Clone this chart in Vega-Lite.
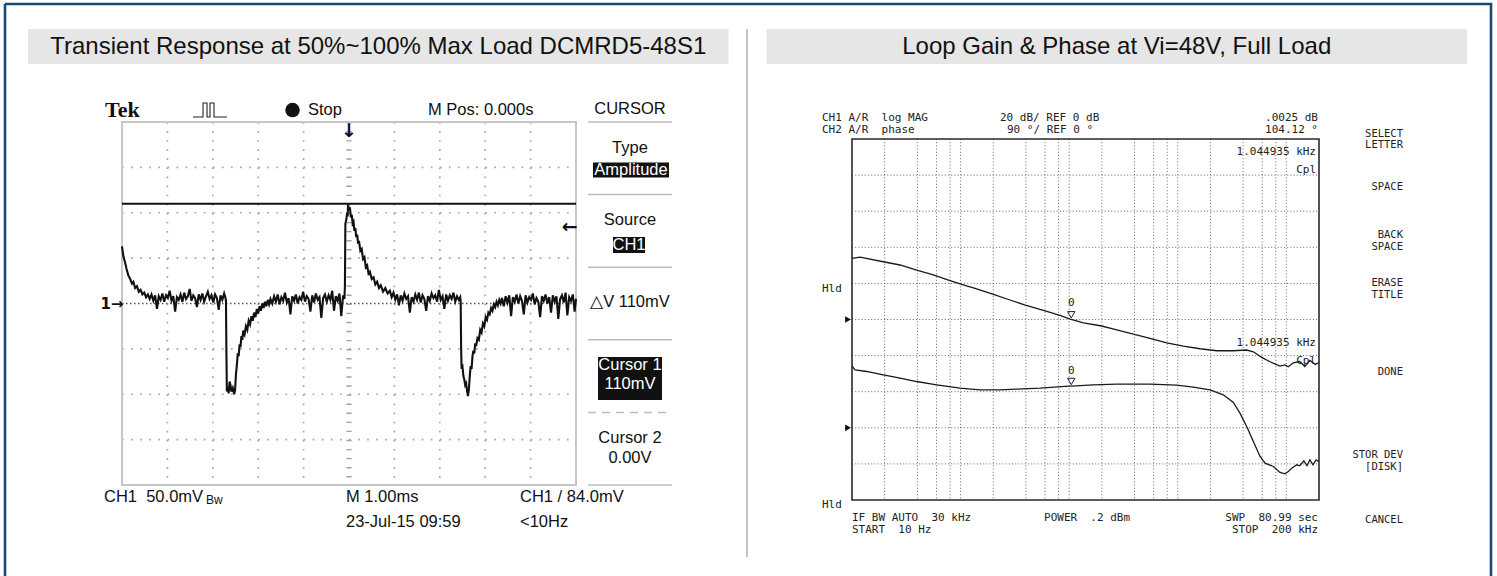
{
"$schema": "https://vega.github.io/schema/vega-lite/v6.json",
"width": 1486, "height": 572,
"autosize": {"type": "none"},
"padding": {"left": 5, "top": 4, "right": 6, "bottom": 0},
"background": "white",
"config": {"view": {"stroke": "#17497b", "strokeWidth": 2.6, "strokeDash": [2058, 1486, 572, 0]}},
"datasets": {
"scope": [
{"t":-5.00,"v":63},{"t":-4.97,"v":52},{"t":-4.93,"v":45},{"t":-4.90,"v":38},{"t":-4.86,"v":31},{"t":-4.82,"v":27},{"t":-4.78,"v":22},{"t":-4.75,"v":24},{"t":-4.71,"v":17},{"t":-4.67,"v":19},{"t":-4.63,"v":13},{"t":-4.59,"v":15},{"t":-4.55,"v":10},{"t":-4.51,"v":12},{"t":-4.47,"v":7},{"t":-4.43,"v":10},
{"t":-4.39,"v":5},{"t":-4.35,"v":10},{"t":-4.31,"v":3},{"t":-4.27,"v":9},{"t":-4.23,"v":-6},{"t":-4.19,"v":8},{"t":-4.15,"v":4},{"t":-4.11,"v":11},{"t":-4.07,"v":2},{"t":-4.03,"v":9},{"t":-3.99,"v":6},{"t":-3.95,"v":14},{"t":-3.91,"v":3},{"t":-3.87,"v":8},{"t":-3.83,"v":-9},{"t":-3.79,"v":7},{"t":-3.75,"v":4},{"t":-3.71,"v":10},{"t":-3.67,"v":2},{"t":-3.63,"v":12},{"t":-3.59,"v":5},{"t":-3.55,"v":8},{"t":-3.51,"v":16},{"t":-3.47,"v":3},{"t":-3.43,"v":9},{"t":-3.39,"v":6},{"t":-3.35,"v":-4},{"t":-3.31,"v":10},{"t":-3.27,"v":4},{"t":-3.23,"v":11},{"t":-3.19,"v":2},{"t":-3.15,"v":8},{"t":-3.11,"v":13},{"t":-3.07,"v":5},{"t":-3.03,"v":9},{"t":-2.99,"v":1},{"t":-2.95,"v":10},{"t":-2.91,"v":6},{"t":-2.87,"v":-7},{"t":-2.83,"v":9},{"t":-2.79,"v":4},{"t":-2.75,"v":11},{"t":-2.72,"v":6},
{"t":-2.71,"v":3},{"t":-2.70,"v":-55},{"t":-2.69,"v":-97},{"t":-2.67,"v":-92},{"t":-2.65,"v":-99},{"t":-2.63,"v":-86},{"t":-2.61,"v":-90},{"t":-2.59,"v":-97},{"t":-2.56,"v":-93},{"t":-2.53,"v":-100},{"t":-2.51,"v":-96},{"t":-2.49,"v":-78},{"t":-2.47,"v":-68},{"t":-2.45,"v":-55},{"t":-2.43,"v":-58},{"t":-2.41,"v":-45},{"t":-2.39,"v":-48},{"t":-2.37,"v":-36},{"t":-2.35,"v":-40},{"t":-2.33,"v":-30},{"t":-2.30,"v":-34},{"t":-2.27,"v":-25},{"t":-2.24,"v":-29},{"t":-2.21,"v":-19},{"t":-2.18,"v":-23},{"t":-2.15,"v":-14},{"t":-2.12,"v":-19},{"t":-2.09,"v":-10},{"t":-2.06,"v":-15},{"t":-2.03,"v":-6},{"t":-2.00,"v":-11},{"t":-1.97,"v":-3},{"t":-1.94,"v":-8},{"t":-1.91,"v":0},{"t":-1.88,"v":-5},{"t":-1.85,"v":2},{"t":-1.82,"v":-3},{"t":-1.79,"v":4},{"t":-1.76,"v":-1},{"t":-1.73,"v":5},
{"t":-1.69,"v":0},{"t":-1.65,"v":8},{"t":-1.61,"v":2},{"t":-1.57,"v":10},{"t":-1.53,"v":-1},{"t":-1.49,"v":7},{"t":-1.45,"v":3},{"t":-1.41,"v":12},{"t":-1.37,"v":1},{"t":-1.33,"v":6},{"t":-1.29,"v":-12},{"t":-1.25,"v":8},{"t":-1.21,"v":3},{"t":-1.17,"v":10},{"t":-1.13,"v":0},{"t":-1.09,"v":7},{"t":-1.05,"v":4},{"t":-1.01,"v":13},{"t":-0.97,"v":2},{"t":-0.93,"v":8},{"t":-0.89,"v":5},{"t":-0.85,"v":-9},{"t":-0.81,"v":9},{"t":-0.77,"v":1},{"t":-0.73,"v":11},{"t":-0.69,"v":4},{"t":-0.65,"v":7},{"t":-0.61,"v":-16},{"t":-0.57,"v":6},{"t":-0.53,"v":10},{"t":-0.49,"v":2},{"t":-0.45,"v":9},{"t":-0.41,"v":4},{"t":-0.37,"v":14},{"t":-0.33,"v":-8},{"t":-0.29,"v":8},{"t":-0.25,"v":3},{"t":-0.21,"v":11},{"t":-0.17,"v":-14},{"t":-0.13,"v":9},{"t":-0.10,"v":5},
{"t":-0.09,"v":20},{"t":-0.08,"v":88},{"t":-0.06,"v":92},{"t":-0.04,"v":100},{"t":-0.03,"v":96},{"t":-0.02,"v":109},{"t":0.00,"v":103},{"t":0.02,"v":106},{"t":0.04,"v":95},{"t":0.06,"v":98},{"t":0.08,"v":88},{"t":0.10,"v":90},{"t":0.12,"v":80},{"t":0.14,"v":83},{"t":0.16,"v":73},{"t":0.18,"v":76},{"t":0.20,"v":66},{"t":0.22,"v":69},{"t":0.25,"v":58},{"t":0.28,"v":60},{"t":0.31,"v":49},{"t":0.34,"v":51},{"t":0.37,"v":40},{"t":0.40,"v":42},{"t":0.43,"v":33},{"t":0.46,"v":35},{"t":0.50,"v":27},{"t":0.54,"v":29},{"t":0.58,"v":21},{"t":0.62,"v":24},{"t":0.66,"v":17},{"t":0.70,"v":20},{"t":0.75,"v":13},{"t":0.80,"v":17},{"t":0.85,"v":11},{"t":0.90,"v":14},
{"t":0.94,"v":7},{"t":0.98,"v":12},{"t":1.02,"v":4},{"t":1.06,"v":10},{"t":1.10,"v":-2},{"t":1.14,"v":9},{"t":1.18,"v":3},{"t":1.22,"v":11},{"t":1.26,"v":5},{"t":1.30,"v":8},{"t":1.34,"v":-10},{"t":1.38,"v":7},{"t":1.42,"v":2},{"t":1.46,"v":10},{"t":1.50,"v":4},{"t":1.54,"v":12},{"t":1.58,"v":1},{"t":1.62,"v":9},{"t":1.66,"v":5},{"t":1.70,"v":-8},{"t":1.74,"v":8},{"t":1.78,"v":3},{"t":1.82,"v":11},{"t":1.86,"v":6},{"t":1.90,"v":9},{"t":1.94,"v":2},{"t":1.98,"v":15},{"t":2.02,"v":4},{"t":2.06,"v":8},{"t":2.10,"v":-6},{"t":2.14,"v":10},{"t":2.18,"v":3},{"t":2.22,"v":9},{"t":2.26,"v":5},{"t":2.30,"v":12},{"t":2.34,"v":2},{"t":2.38,"v":8},{"t":2.42,"v":4},{"t":2.45,"v":7},
{"t":2.46,"v":2},{"t":2.47,"v":-50},{"t":2.48,"v":-72},{"t":2.50,"v":-70},{"t":2.52,"v":-80},{"t":2.54,"v":-84},{"t":2.56,"v":-90},{"t":2.58,"v":-88},{"t":2.60,"v":-96},{"t":2.62,"v":-102},{"t":2.64,"v":-95},{"t":2.66,"v":-80},{"t":2.68,"v":-69},{"t":2.70,"v":-72},{"t":2.72,"v":-58},{"t":2.74,"v":-52},{"t":2.76,"v":-55},{"t":2.78,"v":-44},{"t":2.80,"v":-47},{"t":2.83,"v":-38},{"t":2.86,"v":-40},{"t":2.89,"v":-29},{"t":2.92,"v":-32},{"t":2.95,"v":-22},{"t":2.98,"v":-25},{"t":3.01,"v":-15},{"t":3.04,"v":-18},{"t":3.07,"v":-10},{"t":3.10,"v":-12},{"t":3.13,"v":-5},{"t":3.16,"v":-8},{"t":3.19,"v":-1},{"t":3.22,"v":-4},{"t":3.25,"v":2},{"t":3.28,"v":-2},{"t":3.31,"v":4},{"t":3.34,"v":0},
{"t":3.37,"v":6},{"t":3.41,"v":-3},{"t":3.45,"v":8},{"t":3.49,"v":1},{"t":3.53,"v":9},{"t":3.57,"v":-14},{"t":3.61,"v":7},{"t":3.65,"v":2},{"t":3.69,"v":10},{"t":3.73,"v":0},{"t":3.77,"v":8},{"t":3.81,"v":3},{"t":3.85,"v":-12},{"t":3.89,"v":9},{"t":3.93,"v":1},{"t":3.97,"v":7},{"t":4.01,"v":4},{"t":4.05,"v":11},{"t":4.09,"v":-1},{"t":4.13,"v":6},{"t":4.17,"v":2},{"t":4.21,"v":-15},{"t":4.25,"v":8},{"t":4.29,"v":3},{"t":4.33,"v":10},{"t":4.37,"v":0},{"t":4.41,"v":7},{"t":4.45,"v":-10},{"t":4.49,"v":9},{"t":4.53,"v":2},{"t":4.57,"v":8},{"t":4.61,"v":-17},{"t":4.65,"v":5},{"t":4.69,"v":9},{"t":4.73,"v":1},{"t":4.77,"v":12},{"t":4.81,"v":-13},{"t":4.85,"v":7},{"t":4.89,"v":3},{"t":4.93,"v":10},{"t":4.97,"v":-9},{"t":5.00,"v":5}
],
"mag": [
{"f":10,"db":33.9},{"f":11.85,"db":34.5},{"f":19.4,"db":32.0},{"f":27.7,"db":30.2},{"f":39.4,"db":27.4},{"f":56.1,"db":24.7},{"f":79.9,"db":21.5},{"f":98.8,"db":19.7},{"f":140.6,"db":16.9},{"f":197.6,"db":14.0},{"f":285,"db":10.8},{"f":394.5,"db":8.0},{"f":590,"db":4.9},{"f":824,"db":2.3},{"f":990,"db":0.5},{"f":1045,"db":0.0},{"f":1352,"db":-1.9},{"f":1995,"db":-3.6},{"f":2742,"db":-5.8},{"f":3984,"db":-8.2},{"f":5556,"db":-10.4},{"f":7910,"db":-12.9},{"f":11250,"db":-14.7},{"f":16030,"db":-16.2},{"f":22850,"db":-17.3},{"f":32520,"db":-17.3},{"f":43150,"db":-16.9},{"f":49700,"db":-17.9},{"f":59300,"db":-21.0},{"f":70800,"db":-23.4},{"f":87500,"db":-25.8},{"f":97200,"db":-25.2},{"f":104300,"db":-26.2},{"f":116000,"db":-24.0},{"f":133000,"db":-23.3},{"f":148000,"db":-26.0},{"f":165000,"db":-22.7},{"f":185000,"db":-24.9},{"f":200000,"db":-23.8}
],
"phase": [
{"f":10,"deg":154.6},{"f":10.66,"deg":144.6},{"f":13.65,"deg":140.4},{"f":19.4,"deg":132.1},{"f":27.7,"deg":123.9},{"f":39.4,"deg":115.4},{"f":60.2,"deg":107.2},{"f":98.8,"deg":98.9},{"f":151,"deg":94.7},{"f":230.7,"deg":94.7},{"f":328.5,"deg":96.4},{"f":538,"deg":98.9},{"f":990,"deg":103.8},{"f":1045,"deg":104.1},{"f":1668,"deg":107.2},{"f":2742,"deg":108.9},{"f":5556,"deg":108.9},{"f":9780,"deg":106.4},{"f":13900,"deg":101.4},{"f":19820,"deg":94.7},{"f":26300,"deg":82.3},{"f":32520,"deg":63.1},{"f":37400,"deg":36.6},{"f":43150,"deg":3.3},{"f":49700,"deg":-34.1},{"f":57300,"deg":-71.5},{"f":63700,"deg":-88.1},{"f":75900,"deg":-96.4},{"f":87500,"deg":-111.4},{"f":97200,"deg":-114.7},{"f":104300,"deg":-108.9},{"f":112200,"deg":-100.6},{"f":124800,"deg":-92.2},{"f":133000,"deg":-94.7},{"f":145000,"deg":-82.3},{"f":155000,"deg":-94.7},{"f":165000,"deg":-79.8},{"f":176000,"deg":-92.2},{"f":188000,"deg":-79.8},{"f":200000,"deg":-84.8}
]
},
"resolve": {"scale": {"x": "independent", "y": "independent"}},
"layer": [
{
 "data": {"values": [{"panel": "left", "row": "bar", "title": "Transient Response at 50%~100% Max Load DCMRD5-48S1"}, {"panel": "right", "row": "bar", "title": "Loop Gain & Phase at Vi=48V, Full Load"}]},
 "encoding": {
  "x": {"field": "panel", "type": "nominal", "axis": null, "scale": {"type": "band", "domain": ["left", "right"], "range": [23, 1462], "paddingInner": 0.05146, "paddingOuter": 0}},
  "y": {"field": "row", "type": "nominal", "axis": null, "scale": {"type": "band", "domain": ["bar"], "range": [25, 60], "paddingInner": 0, "paddingOuter": 0}}
 },
 "layer": [
  {"mark": {"type": "rect", "color": "#e6e6e6"}},
  {"mark": {"type": "text", "font": "Liberation Sans", "fontSize": 24, "color": "#111111", "baseline": "middle", "align": "center"}, "encoding": {"text": {"field": "title"}}}
 ]
},
{
 "data": {"values": [{"part": "divider"}]},
 "mark": {"type": "rect", "color": "#9a9a9a"},
 "encoding": {
  "x": {"field": "part", "type": "nominal", "axis": null, "scale": {"type": "band", "domain": ["divider"], "range": [741.4, 742.6], "paddingInner": 0, "paddingOuter": 0}},
  "y": {"field": "part", "type": "nominal", "axis": null, "scale": {"type": "band", "domain": ["divider"], "range": [25, 553], "paddingInner": 0, "paddingOuter": 0}}
 }
},
{
 "data": {"values": [{"t": -4}, {"t": -3}, {"t": -2}, {"t": -1}, {"t": 1}, {"t": 2}, {"t": 3}, {"t": 4}]},
 "mark": {"type": "rule", "color": "#a5a5a5", "strokeWidth": 1.7, "strokeDash": [1.7, 7.38]},
 "encoding": {
  "x": {"field": "t", "type": "quantitative", "axis": null, "scale": {"domain": [-5, 5], "range": [117, 571], "nice": false, "zero": false}},
  "y": {"datum": 200, "type": "quantitative", "axis": null, "scale": {"domain": [-200, 200], "range": [481, 118], "nice": false, "zero": false}},
  "y2": {"datum": -200}
 }
},
{
 "data": {"values": [{"v": -150}, {"v": -100}, {"v": -50}, {"v": 50}, {"v": 100}, {"v": 150}]},
 "mark": {"type": "rule", "color": "#a5a5a5", "strokeWidth": 1.7, "strokeDash": [1.7, 7.38]},
 "encoding": {
  "y": {"field": "v", "type": "quantitative", "axis": null, "scale": {"domain": [-200, 200], "range": [481, 118], "nice": false, "zero": false}},
  "x": {"datum": -5, "type": "quantitative", "axis": null, "scale": {"domain": [-5, 5], "range": [117, 571], "nice": false, "zero": false}},
  "x2": {"datum": 5}
 }
},
{
 "data": {"values": [{"t": 0}]},
 "mark": {"type": "rule", "color": "#a0a0a0", "strokeWidth": 5, "strokeDash": [1.4, 7.68]},
 "encoding": {
  "x": {"field": "t", "type": "quantitative", "axis": null, "scale": {"domain": [-5, 5], "range": [117, 571], "nice": false, "zero": false}},
  "y": {"datum": 200, "type": "quantitative", "axis": null, "scale": {"domain": [-200, 200], "range": [481, 118], "nice": false, "zero": false}},
  "y2": {"datum": -200}
 }
},
{
 "data": {"values": [{"v": 0}]},
 "mark": {"type": "rule", "color": "#555555", "strokeWidth": 1.4, "strokeDash": [1.5, 2.5]},
 "encoding": {
  "y": {"field": "v", "type": "quantitative", "axis": null, "scale": {"domain": [-200, 200], "range": [481, 118], "nice": false, "zero": false}},
  "x": {"datum": -5, "type": "quantitative", "axis": null, "scale": {"domain": [-5, 5], "range": [117, 571], "nice": false, "zero": false}},
  "x2": {"datum": 5}
 }
},
{
 "data": {"values": [{}]},
 "mark": {"type": "rect", "filled": false, "color": "#c6c6c6", "strokeWidth": 2},
 "encoding": {
  "x": {"datum": -5, "type": "quantitative", "axis": null, "scale": {"domain": [-5, 5], "range": [117, 571], "nice": false, "zero": false}},
  "x2": {"datum": 5},
  "y": {"datum": -200, "type": "quantitative", "axis": null, "scale": {"domain": [-200, 200], "range": [481, 118], "nice": false, "zero": false}},
  "y2": {"datum": 200}
 }
},
{
 "data": {"values": [{"cursor": "Cursor 1", "v": 110}]},
 "mark": {"type": "rule", "color": "#111111", "strokeWidth": 2},
 "encoding": {
  "y": {"field": "v", "type": "quantitative", "axis": null, "scale": {"domain": [-200, 200], "range": [481, 118], "nice": false, "zero": false}},
  "x": {"datum": -5, "type": "quantitative", "axis": null, "scale": {"domain": [-5, 5], "range": [117, 571], "nice": false, "zero": false}},
  "x2": {"datum": 5}
 }
},
{
 "data": {"name": "scope"},
 "mark": {"type": "line", "color": "#111111", "strokeWidth": 2.1, "strokeJoin": "miter"},
 "encoding": {
  "x": {"field": "t", "type": "quantitative", "axis": null, "scale": {"domain": [-5, 5], "range": [117, 571], "nice": false, "zero": false}},
  "y": {"field": "v", "type": "quantitative", "axis": null, "scale": {"domain": [-200, 200], "range": [481, 118], "nice": false, "zero": false}}
 }
},
{
 "data": {"values": [{"t": -5.374, "v": 213.2, "label": "Tek"}]},
 "mark": {"type": "text", "font": "Liberation Serif", "fontWeight": "bold", "fontSize": 22, "color": "#111111", "align": "left", "baseline": "middle"},
 "encoding": {
  "x": {"field": "t", "type": "quantitative", "axis": null, "scale": {"domain": [-5, 5], "range": [117, 571], "nice": false, "zero": false}},
  "y": {"field": "v", "type": "quantitative", "axis": null, "scale": {"domain": [-200, 200], "range": [481, 118], "nice": false, "zero": false}},
  "text": {"field": "label"}
 }
},
{
 "data": {"values": [
  {"t": -0.903, "v": 213.2, "label": "Stop"},
  {"t": 1.74, "v": 213.2, "label": "M Pos: 0.000s"},
  {"t": -5.396, "v": -213.2, "label": "CH1\u00a0\u00a050.0mV"},
  {"t": -0.066, "v": -213.2, "label": "M 1.00ms"},
  {"t": -0.066, "v": -240.8, "label": "23-Jul-15 09:59"},
  {"t": 3.767, "v": -213.2, "label": "CH1 / 84.0mV"},
  {"t": 3.767, "v": -240.8, "label": "<10Hz"}
 ]},
 "mark": {"type": "text", "font": "Liberation Sans", "fontSize": 16.5, "color": "#111111", "align": "left", "baseline": "middle"},
 "encoding": {
  "x": {"field": "t", "type": "quantitative", "axis": null, "scale": {"domain": [-5, 5], "range": [117, 571], "nice": false, "zero": false}},
  "y": {"field": "v", "type": "quantitative", "axis": null, "scale": {"domain": [-200, 200], "range": [481, 118], "nice": false, "zero": false}},
  "text": {"field": "label"}
 }
},
{
 "data": {"values": [{"t": -3.15, "v": -216.5, "label": "Bw"}]},
 "mark": {"type": "text", "font": "Liberation Sans", "fontSize": 12, "color": "#111111", "align": "left", "baseline": "middle"},
 "encoding": {
  "x": {"field": "t", "type": "quantitative", "axis": null, "scale": {"domain": [-5, 5], "range": [117, 571], "nice": false, "zero": false}},
  "y": {"field": "v", "type": "quantitative", "axis": null, "scale": {"domain": [-200, 200], "range": [481, 118], "nice": false, "zero": false}},
  "text": {"field": "label"}
 }
},
{
 "data": {"values": [{"v": 200}, {"v": 120}, {"v": 40}, {"v": -40}, {"v": -200}]},
 "mark": {"type": "rule", "color": "#bdbdbd", "strokeWidth": 1.5},
 "encoding": {
  "y": {"field": "v", "type": "quantitative", "axis": null, "scale": {"domain": [-200, 200], "range": [481, 118], "nice": false, "zero": false}},
  "x": {"datum": 5.264, "type": "quantitative", "axis": null, "scale": {"domain": [-5, 5], "range": [117, 571], "nice": false, "zero": false}},
  "x2": {"datum": 7.114}
 }
},
{
 "data": {"values": [{"v": -120}]},
 "mark": {"type": "rule", "color": "#bdbdbd", "strokeWidth": 1.5, "strokeDash": [8, 6]},
 "encoding": {
  "y": {"field": "v", "type": "quantitative", "axis": null, "scale": {"domain": [-200, 200], "range": [481, 118], "nice": false, "zero": false}},
  "x": {"datum": 5.264, "type": "quantitative", "axis": null, "scale": {"domain": [-5, 5], "range": [117, 571], "nice": false, "zero": false}},
  "x2": {"datum": 7.114}
 }
},
{
 "data": {"values": [
  {"item": "Amplitude", "t0": 5.374, "t1": 7.048, "v0": 138.8, "v1": 155.4},
  {"item": "CH1", "t0": 5.815, "t1": 6.52, "v0": 55.6, "v1": 73.3},
  {"item": "Cursor 1", "t0": 5.485, "t1": 6.894, "v0": -106.3, "v1": -58.9}
 ]},
 "mark": {"type": "rect", "color": "#111111"},
 "encoding": {
  "x": {"field": "t0", "type": "quantitative", "axis": null, "scale": {"domain": [-5, 5], "range": [117, 571], "nice": false, "zero": false}},
  "x2": {"field": "t1"},
  "y": {"field": "v0", "type": "quantitative", "axis": null, "scale": {"domain": [-200, 200], "range": [481, 118], "nice": false, "zero": false}},
  "y2": {"field": "v1"}
 }
},
{
 "data": {"values": [
  {"t": 6.189, "v": 214.3, "label": "CURSOR"},
  {"t": 6.189, "v": 171.3, "label": "Type"},
  {"t": 6.189, "v": 92.0, "label": "Source"},
  {"t": 6.189, "v": 1.7, "label": "\u25b3V 110mV"},
  {"t": 6.189, "v": -148.2, "label": "Cursor 2"},
  {"t": 6.189, "v": -170.2, "label": "0.00V"}
 ]},
 "mark": {"type": "text", "font": "Liberation Sans", "fontSize": 16.5, "color": "#111111", "align": "center", "baseline": "middle"},
 "encoding": {
  "x": {"field": "t", "type": "quantitative", "axis": null, "scale": {"domain": [-5, 5], "range": [117, 571], "nice": false, "zero": false}},
  "y": {"field": "v", "type": "quantitative", "axis": null, "scale": {"domain": [-200, 200], "range": [481, 118], "nice": false, "zero": false}},
  "text": {"field": "label"}
 }
},
{
 "data": {"values": [
  {"t": 6.211, "v": 147.4, "label": "Amplitude"},
  {"t": 6.167, "v": 64.5, "label": "CH1"},
  {"t": 6.189, "v": -67.8, "label": "Cursor 1"},
  {"t": 6.189, "v": -88.7, "label": "110mV"}
 ]},
 "mark": {"type": "text", "font": "Liberation Sans", "fontSize": 16.5, "color": "#ffffff", "align": "center", "baseline": "middle"},
 "encoding": {
  "x": {"field": "t", "type": "quantitative", "axis": null, "scale": {"domain": [-5, 5], "range": [117, 571], "nice": false, "zero": false}},
  "y": {"field": "v", "type": "quantitative", "axis": null, "scale": {"domain": [-200, 200], "range": [481, 118], "nice": false, "zero": false}},
  "text": {"field": "label"}
 }
},
{
 "data": {"values": [{"t": -1.244, "v": 213.2, "state": "Stop"}]},
 "mark": {"type": "point", "shape": "circle", "filled": true, "color": "#111111", "size": 210, "opacity": 1},
 "encoding": {
  "x": {"field": "t", "type": "quantitative", "axis": null, "scale": {"domain": [-5, 5], "range": [117, 571], "nice": false, "zero": false}},
  "y": {"field": "v", "type": "quantitative", "axis": null, "scale": {"domain": [-200, 200], "range": [481, 118], "nice": false, "zero": false}}
 }
},
{
 "data": {"values": [
  {"t": -3.436, "v": 205.5}, {"t": -3.216, "v": 205.5}, {"t": -3.215, "v": 220.9}, {"t": -3.128, "v": 220.9}, {"t": -3.127, "v": 205.5}, {"t": -3.062, "v": 205.5}, {"t": -3.061, "v": 220.9}, {"t": -2.974, "v": 220.9}, {"t": -2.973, "v": 205.5}, {"t": -2.687, "v": 205.5}
 ]},
 "mark": {"type": "line", "color": "#222222", "strokeWidth": 1.1},
 "encoding": {
  "x": {"field": "t", "type": "quantitative", "axis": null, "scale": {"domain": [-5, 5], "range": [117, 571], "nice": false, "zero": false}},
  "y": {"field": "v", "type": "quantitative", "axis": null, "scale": {"domain": [-200, 200], "range": [481, 118], "nice": false, "zero": false}}
 }
},
{
 "data": {"values": [{"t": 0, "v": 190, "label": "\u2193"}, {"t": 4.86, "v": 84.3, "label": "\u2190"}]},
 "mark": {"type": "text", "font": "DejaVu Sans", "fontWeight": "bold", "fontSize": 19, "color": "#111111", "align": "center", "baseline": "middle"},
 "encoding": {
  "x": {"field": "t", "type": "quantitative", "axis": null, "scale": {"domain": [-5, 5], "range": [117, 571], "nice": false, "zero": false}},
  "y": {"field": "v", "type": "quantitative", "axis": null, "scale": {"domain": [-200, 200], "range": [481, 118], "nice": false, "zero": false}},
  "text": {"field": "label"}
 }
},
{
 "data": {"values": [{"t": -5.22, "v": 0, "label": "1\u2192"}]},
 "mark": {"type": "text", "font": "DejaVu Sans", "fontWeight": "bold", "fontSize": 15, "color": "#111111", "align": "center", "baseline": "middle"},
 "encoding": {
  "x": {"field": "t", "type": "quantitative", "axis": null, "scale": {"domain": [-5, 5], "range": [117, 571], "nice": false, "zero": false}},
  "y": {"field": "v", "type": "quantitative", "axis": null, "scale": {"domain": [-200, 200], "range": [481, 118], "nice": false, "zero": false}},
  "text": {"field": "label"}
 }
},
{
 "data": {"values": [{"f": 20}, {"f": 40}, {"f": 60}, {"f": 80}, {"f": 100}, {"f": 200}, {"f": 400}, {"f": 600}, {"f": 800}, {"f": 1000}, {"f": 2000}, {"f": 4000}, {"f": 6000}, {"f": 8000}, {"f": 10000}, {"f": 20000}, {"f": 40000}, {"f": 60000}, {"f": 80000}, {"f": 100000}]},
 "mark": {"type": "rule", "color": "#666666", "strokeWidth": 1, "strokeDash": [1, 2.2]},
 "encoding": {
  "x": {"field": "f", "type": "quantitative", "axis": null, "scale": {"type": "log", "domain": [10, 200000], "range": [847, 1314], "nice": false}},
  "y": {"datum": 100, "type": "quantitative", "axis": null, "scale": {"domain": [-100, 100], "range": [496, 135], "nice": false, "zero": false}},
  "y2": {"datum": -100}
 }
},
{
 "data": {"values": [{"db": -80}, {"db": -60}, {"db": -40}, {"db": -20}, {"db": 0}, {"db": 20}, {"db": 40}, {"db": 60}, {"db": 80}]},
 "mark": {"type": "rule", "color": "#666666", "strokeWidth": 1, "strokeDash": [1, 2.2]},
 "encoding": {
  "y": {"field": "db", "type": "quantitative", "axis": null, "scale": {"domain": [-100, 100], "range": [496, 135], "nice": false, "zero": false}},
  "x": {"datum": 10, "type": "quantitative", "axis": null, "scale": {"type": "log", "domain": [10, 200000], "range": [847, 1314], "nice": false}},
  "x2": {"datum": 200000}
 }
},
{
 "data": {"values": [{}]},
 "mark": {"type": "rect", "filled": false, "color": "#2a2a2a", "strokeWidth": 1.6},
 "encoding": {
  "x": {"datum": 10, "type": "quantitative", "axis": null, "scale": {"type": "log", "domain": [10, 200000], "range": [847, 1314], "nice": false}},
  "x2": {"datum": 200000},
  "y": {"datum": -100, "type": "quantitative", "axis": null, "scale": {"domain": [-100, 100], "range": [496, 135], "nice": false, "zero": false}},
  "y2": {"datum": 100}
 }
},
{
 "data": {"name": "mag"},
 "mark": {"type": "line", "color": "#1a1a1a", "strokeWidth": 1.3},
 "encoding": {
  "x": {"field": "f", "type": "quantitative", "axis": null, "scale": {"type": "log", "domain": [10, 200000], "range": [847, 1314], "nice": false}},
  "y": {"field": "db", "type": "quantitative", "axis": null, "scale": {"domain": [-100, 100], "range": [496, 135], "nice": false, "zero": false}}
 }
},
{
 "data": {"name": "phase"},
 "mark": {"type": "line", "color": "#1a1a1a", "strokeWidth": 1.3},
 "encoding": {
  "x": {"field": "f", "type": "quantitative", "axis": null, "scale": {"type": "log", "domain": [10, 200000], "range": [847, 1314], "nice": false}},
  "y": {"field": "deg", "type": "quantitative", "axis": null, "scale": {"domain": [-180, 720], "range": [496, 135], "nice": false, "zero": false}}
 }
},
{
 "data": {"values": [
  {"f": 5.29, "db": 111.9, "label": "CH1 A/R\u00a0\u00a0log MAG"},
  {"f": 5.29, "db": 104.8, "label": "CH2 A/R\u00a0\u00a0phase"},
  {"f": 230.7, "db": 111.9, "label": "20 dB/ REF 0 dB"},
  {"f": 267.6, "db": 104.8, "label": "90 \u00b0/ REF 0 \u00b0"},
  {"f": 5.29, "db": 16.9, "label": "Hld"},
  {"f": 5.29, "db": -102.8, "label": "Hld"},
  {"f": 10, "db": -110.2, "label": "IF BW AUTO\u00a0\u00a030 kHz"},
  {"f": 10, "db": -116.5, "label": "START\u00a0\u00a010 Hz"},
  {"f": 586.7, "db": -110.2, "label": "POWER\u00a0\u00a0.2 dBm"}
 ]},
 "mark": {"type": "text", "font": "DejaVu Sans Mono", "fontSize": 11, "color": "#222222", "align": "left", "baseline": "middle"},
 "encoding": {
  "x": {"field": "f", "type": "quantitative", "axis": null, "scale": {"type": "log", "domain": [1, 2000000], "range": [738.4, 1422.6], "nice": false}},
  "y": {"field": "db", "type": "quantitative", "axis": null, "scale": {"domain": [-100, 100], "range": [496, 135], "nice": false, "zero": false}},
  "text": {"field": "label"}
 }
},
{
 "data": {"values": [
  {"f": 195800, "db": 111.9, "label": ".0025 dB"},
  {"f": 195800, "db": 104.8, "label": "104.12 \u00b0"},
  {"f": 195800, "db": -110.2, "label": "SWP\u00a0\u00a080.99 sec"},
  {"f": 195800, "db": -116.5, "label": "STOP\u00a0\u00a0200 kHz"},
  {"f": 187700, "db": 92.8, "label": "1.044935 kHz"},
  {"f": 187700, "db": 82.8, "label": "Cpl"},
  {"f": 187700, "db": -13.0, "label": "1.044935 kHz"},
  {"f": 187700, "db": -23.0, "label": "Cpl"}
 ]},
 "mark": {"type": "text", "font": "DejaVu Sans Mono", "fontSize": 11, "color": "#222222", "align": "right", "baseline": "middle"},
 "encoding": {
  "x": {"field": "f", "type": "quantitative", "axis": null, "scale": {"type": "log", "domain": [10, 200000], "range": [847, 1314], "nice": false}},
  "y": {"field": "db", "type": "quantitative", "axis": null, "scale": {"domain": [-100, 100], "range": [496, 135], "nice": false, "zero": false}},
  "text": {"field": "label"}
 }
},
{
 "data": {"values": [
  {"f": 1187400, "db": 102.5, "label": "SELECT"},
  {"f": 1187400, "db": 96.4, "label": "LETTER"},
  {"f": 1187400, "db": 73.4, "label": "SPACE"},
  {"f": 1187400, "db": 46.6, "label": "BACK"},
  {"f": 1187400, "db": 40.4, "label": "SPACE"},
  {"f": 1187400, "db": 20.0, "label": "ERASE"},
  {"f": 1187400, "db": 13.8, "label": "TITLE"},
  {"f": 1187400, "db": -29.1, "label": "DONE"},
  {"f": 1187400, "db": -75.3, "label": "STOR DEV"},
  {"f": 1187400, "db": -81.5, "label": "[DISK]"},
  {"f": 1187400, "db": -111.1, "label": "CANCEL"}
 ]},
 "mark": {"type": "text", "font": "DejaVu Sans Mono", "fontSize": 10.5, "color": "#222222", "align": "right", "baseline": "middle"},
 "encoding": {
  "x": {"field": "f", "type": "quantitative", "axis": null, "scale": {"type": "log", "domain": [10, 2000000], "range": [847, 1422.6], "nice": false}},
  "y": {"field": "db", "type": "quantitative", "axis": null, "scale": {"domain": [-100, 100], "range": [496, 135], "nice": false, "zero": false}},
  "text": {"field": "label"}
 }
},
{
 "data": {"values": [{"ref": "CH1", "f": 9.2, "db": 0}, {"ref": "CH2", "f": 9.2, "db": -60}]},
 "mark": {"type": "point", "shape": "triangle-right", "filled": true, "color": "#111111", "size": 45, "opacity": 1},
 "encoding": {
  "x": {"field": "f", "type": "quantitative", "axis": null, "scale": {"type": "log", "domain": [1, 200000], "range": [738.4, 1314], "nice": false}},
  "y": {"field": "db", "type": "quantitative", "axis": null, "scale": {"domain": [-100, 100], "range": [496, 135], "nice": false, "zero": false}}
 }
},
{
 "data": {"values": [{"f": 1044.935, "db": 2.6}]},
 "mark": {"type": "point", "shape": "triangle-down", "filled": false, "color": "#222222", "strokeWidth": 1, "size": 55, "opacity": 1},
 "encoding": {
  "x": {"field": "f", "type": "quantitative", "axis": null, "scale": {"type": "log", "domain": [10, 200000], "range": [847, 1314], "nice": false}},
  "y": {"field": "db", "type": "quantitative", "axis": null, "scale": {"domain": [-100, 100], "range": [496, 135], "nice": false, "zero": false}}
 }
},
{
 "data": {"values": [{"f": 1044.935, "db": 9.1, "label": "0"}]},
 "mark": {"type": "text", "font": "DejaVu Sans Mono", "fontSize": 11, "color": "#222222", "align": "center", "baseline": "middle"},
 "encoding": {
  "x": {"field": "f", "type": "quantitative", "axis": null, "scale": {"type": "log", "domain": [10, 200000], "range": [847, 1314], "nice": false}},
  "y": {"field": "db", "type": "quantitative", "axis": null, "scale": {"domain": [-100, 100], "range": [496, 135], "nice": false, "zero": false}},
  "text": {"field": "label"}
 }
},
{
 "data": {"values": [{"f": 1044.935, "deg": 115.5}]},
 "mark": {"type": "point", "shape": "triangle-down", "filled": false, "color": "#222222", "strokeWidth": 1, "size": 55, "opacity": 1},
 "encoding": {
  "x": {"field": "f", "type": "quantitative", "axis": null, "scale": {"type": "log", "domain": [10, 200000], "range": [847, 1314], "nice": false}},
  "y": {"field": "deg", "type": "quantitative", "axis": null, "scale": {"domain": [-180, 720], "range": [496, 135], "nice": false, "zero": false}}
 }
},
{
 "data": {"values": [{"f": 1044.935, "deg": 142.1, "label": "0"}]},
 "mark": {"type": "text", "font": "DejaVu Sans Mono", "fontSize": 11, "color": "#222222", "align": "center", "baseline": "middle"},
 "encoding": {
  "x": {"field": "f", "type": "quantitative", "axis": null, "scale": {"type": "log", "domain": [10, 200000], "range": [847, 1314], "nice": false}},
  "y": {"field": "deg", "type": "quantitative", "axis": null, "scale": {"domain": [-180, 720], "range": [496, 135], "nice": false, "zero": false}},
  "text": {"field": "label"}
 }
}
]
}
